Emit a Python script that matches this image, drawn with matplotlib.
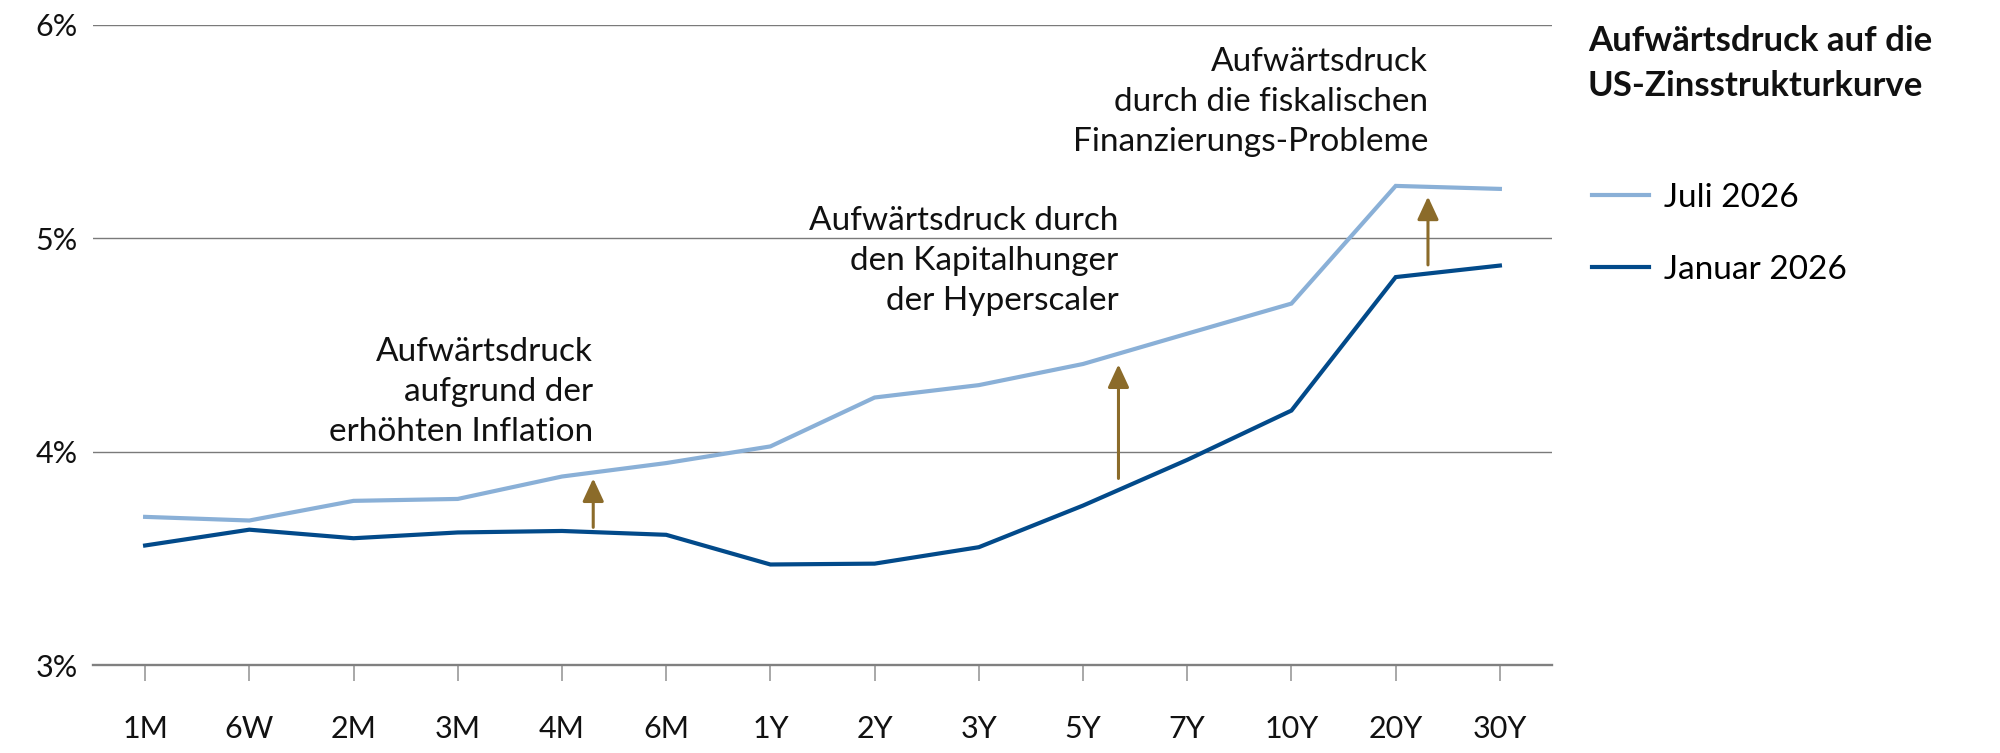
import matplotlib
matplotlib.use('Agg')
import matplotlib.pyplot as plt

plt.rcParams['font.family'] = ['Lato', 'DejaVu Sans']

maturities = ['1M', '6W', '2M', '3M', '4M', '6M', '1Y', '2Y', '3Y', '5Y', '7Y', '10Y', '20Y', '30Y']
juli_2026 = [3.695, 3.678, 3.770, 3.779, 3.884, 3.947, 4.025, 4.254, 4.312, 4.411, 4.553, 4.694, 5.245, 5.231]
januar_2026 = [3.561, 3.635, 3.595, 3.622, 3.629, 3.611, 3.472, 3.476, 3.553, 3.748, 3.962, 4.193, 4.818, 4.872]

# arrows: x position, from, to
arrow_x = [4.30, 9.34, 12.31]
arrow_from = [3.646, 3.875, 4.875]
arrow_to = [3.875, 4.409, 5.195]
notes = ['Aufwärtsdruck\naufgrund der\nerhöhten Inflation',
         'Aufwärtsdruck durch\nden Kapitalhunger\nder Hyperscaler',
         'Aufwärtsdruck\ndurch die fiskalischen\nFinanzierungs-Probleme']
# baseline of the last line of each note
note_y = [4.051, 4.664, 5.407]

light = '#8AB0D7'
dark = '#024A8A'
gold = '#8B6B2A'

fig = plt.figure(figsize=(20, 7.53), dpi=100)
ax = fig.add_axes([0.0465, 0.1165, 0.7295, 0.8507])

x = list(range(len(maturities)))
ax.plot(x, juli_2026, color=light, lw=3.0, label='Juli 2026', solid_joinstyle='miter')
ax.plot(x, januar_2026, color=dark, lw=3.0, label='Januar 2026', solid_joinstyle='miter')

for i in range(len(arrow_x)):
    ax.annotate('', xy=(arrow_x[i], arrow_to[i]), xytext=(arrow_x[i], arrow_from[i]),
                arrowprops=dict(arrowstyle='-|>,head_length=1.4,head_width=0.65',
                                color=gold, lw=2.2, shrinkA=0, shrinkB=0))
    ax.text(arrow_x[i], note_y[i], notes[i], ha='right', va='baseline',
            fontsize=24, linespacing=1.42, color='#111111')

ax.set_xlim(-0.5, 13.5)
ax.set_ylim(3, 6)
ax.set_yticks([3, 4, 5, 6])
ax.set_yticklabels(['3%', '4%', '5%', '6%'])
ax.set_xticks(x)
ax.set_xticklabels(maturities)

ax.grid(axis='y', color='#7a7a7a', lw=1.0)
ax.set_axisbelow(True)
for s in ['top', 'right', 'left']:
    ax.spines[s].set_visible(False)
ax.spines['bottom'].set_color('#808080')
ax.spines['bottom'].set_linewidth(1.7)

ax.tick_params(axis='x', length=11.5, width=1.4, color='#a8a8a8', pad=24,
               labelsize=22, labelcolor='#111111')
ax.tick_params(axis='y', length=0, pad=11, labelsize=22, labelcolor='#111111')

fig.text(0.794, 0.967, 'Aufwärtsdruck auf die\nUS-Zinsstrukturkurve', ha='left', va='top',
         fontsize=25, fontweight='bold', linespacing=1.5, color='#111111')

fig.legend(loc='upper left', bbox_to_anchor=(0.796, 0.757), frameon=False,
           borderpad=0, borderaxespad=0, handlelength=1.7, handletextpad=0.45,
           labelspacing=1.25, fontsize=24)

fig.savefig('out.png', dpi=100, facecolor='white')
